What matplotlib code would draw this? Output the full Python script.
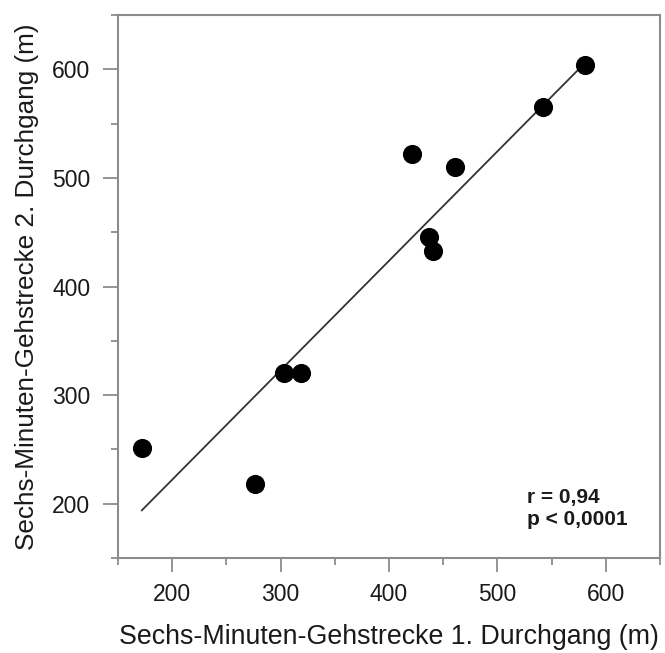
import numpy as np
import matplotlib
matplotlib.use("Agg")
import matplotlib.pyplot as plt
from matplotlib.ticker import MultipleLocator

plt.rcParams['font.family'] = ['Liberation Sans', 'DejaVu Sans']

run1 = [172, 276, 303, 319, 421, 461, 437, 441, 542, 581]
run2 = [251, 218, 320, 320, 522, 510, 446, 433, 565, 604]
ticks = [200, 300, 400, 500, 600]
xlabel = "Sechs-Minuten-Gehstrecke 1. Durchgang (m)"
ylabel = "Sechs-Minuten-Gehstrecke 2. Durchgang (m)"
r_text = "r = 0,94"
p_text = "p < 0,0001"

fig = plt.figure(figsize=(6.65, 6.53), dpi=100)
ax = fig.add_axes([0.1774, 0.1455, 0.815, 0.8315])

x = np.array(run1, dtype=float)
y = np.array(run2, dtype=float)
slope, intercept = np.polyfit(x, y, 1)
xl = np.array([x.min(), x.max()])
ax.plot(xl, slope * xl + intercept, color='#333333', lw=1.3, zorder=2)
ax.scatter(x, y, s=190, color='black', zorder=3, linewidths=0)

ax.set_xticks(ticks)
ax.set_yticks(ticks)
ax.xaxis.set_minor_locator(MultipleLocator(50))
ax.yaxis.set_minor_locator(MultipleLocator(50))
ax.set_xlim(150, 650)
ax.set_ylim(150, 650)

spine_c = '#8c8c8c'
for s in ax.spines.values():
    s.set_color(spine_c)
    s.set_linewidth(1.5)
ax.tick_params(which='major', direction='out', length=10, width=1.3, color=spine_c,
               labelsize=16.5, labelcolor='#1a1a1a')
ax.tick_params(axis='y', which='major', length=11, pad=9)
ax.tick_params(axis='x', which='major', pad=8)
ax.tick_params(which='minor', direction='out', length=5, width=1.3, color=spine_c)
ax.tick_params(top=False, right=False, which='both')

ax.set_xlabel(xlabel, fontsize=19.3, color='#1a1a1a', labelpad=13)
ax.set_ylabel(ylabel, fontsize=18.8, color='#1a1a1a', labelpad=9)

ax.text(0.7546, 0.1013, r_text, transform=ax.transAxes, fontsize=15,
        fontweight='bold', color='#1a1a1a', ha='left', va='baseline')
ax.text(0.7546, 0.0608, p_text, transform=ax.transAxes, fontsize=15,
        fontweight='bold', color='#1a1a1a', ha='left', va='baseline')

fig.savefig('out.png', dpi=100)
